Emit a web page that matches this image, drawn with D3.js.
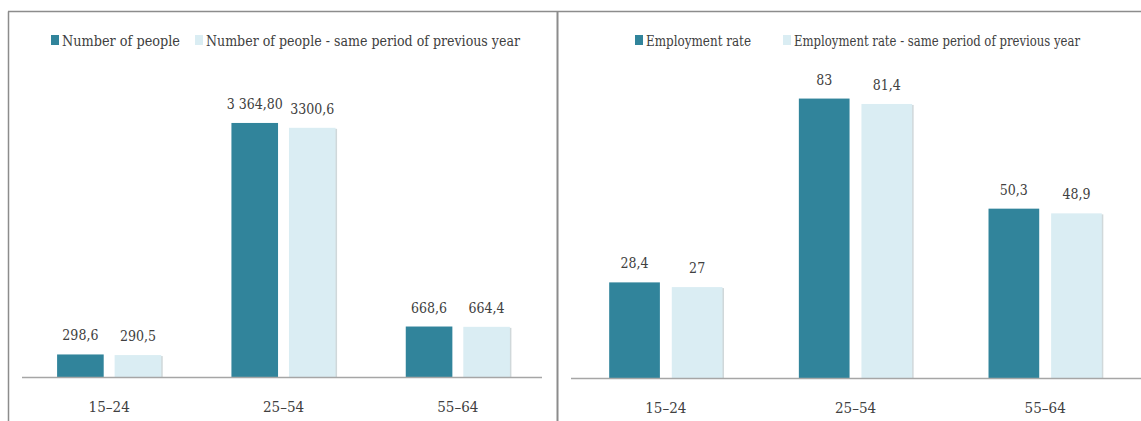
<!DOCTYPE html>
<html>
<head>
<meta charset="utf-8">
<script src="https://cdn.jsdelivr.net/npm/d3@7"></script>
<style>
  html, body { margin: 0; padding: 0; background: #fff; }
  svg { display: block; }
  svg text { fill: #404040; }
</style>
</head>
<body>
<svg id="chart" width="1141" height="421"></svg>
<script>
// Age groups shared by both panels
const categories = ["15–24", "25–54", "55–64"];

// Panel 1: number of employed people (thousands)
const peopleSeries = ["Number of people", "Number of people - same period of previous year"];
const peopleCurrent = [298.6, 3364.8, 668.6];
const peoplePrevious = [290.5, 3300.6, 664.4];
const peopleLabelsCurrent = ["298,6", "3 364,80", "668,6"];
const peopleLabelsPrevious = ["290,5", "3300,6", "664,4"];

// Panel 2: employment rate (%)
const rateSeries = ["Employment rate", "Employment rate - same period of previous year"];
const rateCurrent = [28.4, 83, 50.3];
const ratePrevious = [27, 81.4, 48.9];
const rateLabelsCurrent = ["28,4", "83", "50,3"];
const rateLabelsPrevious = ["27", "81,4", "48,9"];

const colors = ["#31849b", "#daedf3"];
const FONT = "DejaVu Serif";
const CONDENSE = 0.84;

const svg = d3.select("#chart");

// squeeze a text horizontally to give the narrow old-style serif look
function condense(sel, factor) {
  sel.each(function () {
    const w = this.getComputedTextLength();
    d3.select(this).attr("textLength", w * factor).attr("lengthAdjust", "spacingAndGlyphs");
  });
}

// Frame: left panel box, shared top rule and divider
const frame = svg.append("g").attr("fill", "none").attr("stroke", "#8c8c8c");
frame.append("line").attr("x1", 8.5).attr("x2", 8.5).attr("y1", 11.5).attr("y2", 421).attr("stroke-width", 1.5);
frame.append("line").attr("x1", 8).attr("x2", 1141).attr("y1", 11.5).attr("y2", 11.5).attr("stroke-width", 1.5);
frame.append("line").attr("x1", 557.5).attr("x2", 557.5).attr("y1", 11).attr("y2", 421).attr("stroke-width", 2);

function panel(opts) {
  const g = svg.append("g").attr("font-family", FONT);
  const rows = categories.map((c, i) => ({
    cat: c,
    vals: [
      { k: 0, v: opts.current[i], lab: opts.labCurrent[i] },
      { k: 1, v: opts.previous[i], lab: opts.labPrevious[i] }
    ]
  }));

  const x0 = d3.scaleBand().domain(categories).range([opts.x0, opts.x1]).paddingInner(0).paddingOuter(0);
  const x1 = d3.scaleBand().domain([0, 1]).range([0, x0.bandwidth()]).paddingInner(0.19).paddingOuter(0.61);
  const y = d3.scaleLinear().domain([0, opts.max]).range([opts.base, 75]);

  const grp = g.selectAll("g.cat").data(rows).join("g")
    .attr("class", "cat")
    .attr("transform", d => `translate(${x0(d.cat)},0)`);

  // light bars carry a faint shadow on their right edge
  grp.selectAll("rect.shadow").data(d => d.vals.filter(v => v.k === 1)).join("rect")
    .attr("class", "shadow")
    .attr("x", d => x1(d.k) + 1.5)
    .attr("y", d => y(d.v) + 1)
    .attr("width", x1.bandwidth())
    .attr("height", d => opts.base - y(d.v) - 1)
    .attr("fill", "#d0d8da");

  grp.selectAll("rect.bar").data(d => d.vals).join("rect")
    .attr("class", "bar")
    .attr("x", d => x1(d.k))
    .attr("y", d => y(d.v))
    .attr("width", x1.bandwidth())
    .attr("height", d => opts.base - y(d.v))
    .attr("fill", d => colors[d.k]);

  grp.selectAll("text.val").data(d => d.vals).join("text")
    .attr("class", "val")
    .attr("x", d => x1(d.k) + x1.bandwidth() / 2)
    .attr("y", d => y(d.v) - 14)
    .attr("text-anchor", "middle")
    .attr("font-family", FONT)
    .attr("font-size", 15)
    .text(d => d.lab)
    .call(condense, CONDENSE);

  // baseline
  g.append("line")
    .attr("x1", opts.lineX0).attr("x2", opts.lineX1)
    .attr("y1", opts.base + 0.5).attr("y2", opts.base + 0.5)
    .attr("stroke", "#a6a6a6").attr("stroke-width", 1.5);

  // category axis labels
  const axis = d3.axisBottom(x0).tickSize(0).tickPadding(0);
  const ax = g.append("g").attr("transform", `translate(0,${opts.base})`).call(axis)
    .attr("font-family", FONT);
  ax.select(".domain").remove();
  ax.selectAll("text")
    .attr("y", 35)
    .attr("dy", 0)
    .attr("font-size", 15)
    .attr("font-family", FONT)
    .attr("fill", "#404040")
    .call(condense, 0.9);

  // legend
  const leg = g.append("g");
  opts.series.forEach((s, i) => {
    const lx = opts.legendX[i];
    leg.append("rect").attr("x", lx).attr("y", 35).attr("width", 8).attr("height", 10).attr("fill", colors[i]);
    leg.append("text").attr("x", lx + 11).attr("y", 45.5)
      .attr("font-family", FONT).attr("font-size", 14)
      .attr("textLength", opts.legendW[i]).attr("lengthAdjust", "spacingAndGlyphs")
      .text(s);
  });
}

panel({
  x0: 22, x1: 545, lineX0: 22, lineX1: 542, base: 377, max: 4000,
  current: peopleCurrent, previous: peoplePrevious,
  labCurrent: peopleLabelsCurrent, labPrevious: peopleLabelsPrevious,
  series: peopleSeries, legendX: [51, 195], legendW: [118, 314]
});

panel({
  x0: 571, x1: 1140, lineX0: 571, lineX1: 1141, base: 378, max: 90,
  current: rateCurrent, previous: ratePrevious,
  labCurrent: rateLabelsCurrent, labPrevious: rateLabelsPrevious,
  series: rateSeries, legendX: [635, 783], legendW: [105, 286]
});
</script>
</body>
</html>
